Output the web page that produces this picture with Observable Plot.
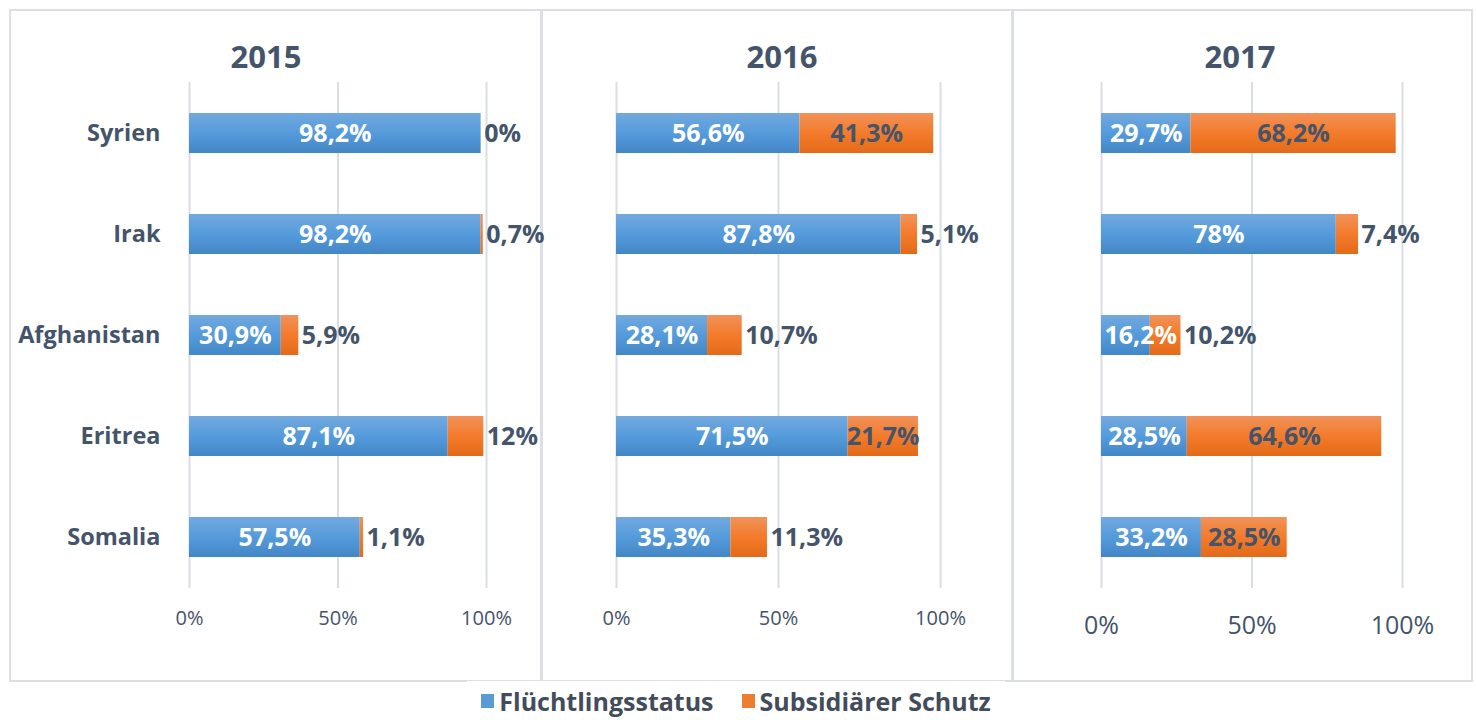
<!DOCTYPE html>
<html><head><meta charset="utf-8">
<script src="https://cdn.jsdelivr.net/npm/d3@7"></script>
<script src="https://cdn.jsdelivr.net/npm/@observablehq/plot@0.6"></script>
<style>
body{margin:0;background:#fff;font-family:"Open Sans",sans-serif;}
#wrap{position:relative;width:1476px;height:720px;overflow:hidden;background:#fff;}
.panel{position:absolute;border:2px solid #DCDFE4;box-sizing:border-box;}
.title{position:absolute;font-weight:700;font-size:31px;line-height:31px;color:#44546A;transform:translateX(-50%);white-space:nowrap;}
.plot{position:absolute;top:0;}
#legend{position:absolute;top:681px;height:39px;background:#fff;display:flex;align-items:center;justify-content:center;font-weight:700;font-size:25px;color:#434C5A;white-space:nowrap;}
#legend .sw{display:inline-block;width:13px;height:14px;margin-right:5px;flex:none;}
#legend .item{display:flex;align-items:center;margin:0 14px;white-space:nowrap;}
</style></head><body><div id="wrap"></div><script>
// ---- data ----
const countries = ["Syrien", "Irak", "Afghanistan", "Eritrea", "Somalia"];
const years = ["2015", "2016", "2017"];
const seriesNames = ["Flüchtlingsstatus", "Subsidiärer Schutz"];
const fluecht2015 = [98.2, 98.2, 30.9, 87.1, 57.5];
const subsid2015  = [0, 0.7, 5.9, 12, 1.1];
const fluecht2016 = [56.6, 87.8, 28.1, 71.5, 35.3];
const subsid2016  = [41.3, 5.1, 10.7, 21.7, 11.3];
const fluecht2017 = [29.7, 78, 16.2, 28.5, 33.2];
const subsid2017  = [68.2, 7.4, 10.2, 64.6, 28.5];
const xTicks = [0, 50, 100];

const fluecht = [fluecht2015, fluecht2016, fluecht2017];
const subsid = [subsid2015, subsid2016, subsid2017];

// ---- layout (styles only) ----
const TEXT = "#44546A";
const panels = [
  {box:[9, 9, 533, 673], svgLeft:0, width:541, mL:189, mR:55, title:266, tickFont:20, tickPad:22, yAxis:true},
  {box:[541, 9, 472, 673], svgLeft:541, width:471, mL:75, mR:72, title:782, tickFont:20, tickPad:22, yAxis:false},
  {box:[1012, 9, 461, 673], svgLeft:1012, width:461, mL:89, mR:71, title:1240, tickFont:25, tickPad:28, yAxis:false}
];
const fmt = v => String(v).replace(".", ",") + "%";
const LABEL_FONT = 25;
const ctx = document.createElement("canvas").getContext("2d");
ctx.font = `700 ${LABEL_FONT}px "Open Sans"`;
const measure = s => ctx.measureText(s).width;

const wrap = document.getElementById("wrap");

panels.forEach((p, i) => {
  const box = document.createElement("div");
  box.className = "panel";
  Object.assign(box.style, {left: p.box[0]+"px", top: p.box[1]+"px", width: p.box[2]+"px", height: p.box[3]+"px"});
  wrap.appendChild(box);
});

panels.forEach((p, i) => {
  const rows = countries.map((c, j) => ({country: c, f: fluecht[i][j], s: subsid[i][j]}));
  const k = (p.width - p.mL - p.mR) / 100;
  const labels = [];
  rows.forEach(r => {
    const bt = fmt(r.f), ot = fmt(r.s);
    const bw = measure(bt), ow = measure(ot);
    if (bw <= r.f * k) labels.push({country: r.country, x: r.f / 2, t: bt, anchor: "middle", fill: "#fff"});
    else labels.push({country: r.country, x: 0, t: bt, anchor: "start", fill: "#fff"});
    if (ow <= r.s * k + 4) labels.push({country: r.country, x: r.f + r.s / 2, t: ot, anchor: "middle", fill: TEXT});
    else labels.push({country: r.country, x: r.f + r.s, t: ot, anchor: "start", fill: TEXT});
  });
  const gb = `gb${i}`, go = `go${i}`;
  const marks = [
    Plot.ruleX(xTicks, {stroke: "#D9DEE5", strokeWidth: 2}),
    Plot.barX(rows, {y: "country", x1: 0, x2: "f", fill: `url(#${gb})`}),
    Plot.barX(rows, {y: "country", x1: "f", x2: d => d.f + d.s, fill: `url(#${go})`}),
    Plot.text(labels.filter(d => d.anchor === "middle"), {y: "country", x: "x", text: "t", fill: "fill", textAnchor: "middle", fontSize: LABEL_FONT, fontWeight: 700, fontFamily: "Open Sans"}),
    Plot.text(labels.filter(d => d.anchor === "start"), {y: "country", x: "x", text: "t", fill: "fill", textAnchor: "start", dx: 3, fontSize: LABEL_FONT, fontWeight: 700, fontFamily: "Open Sans"}),
    Plot.axisX({ticks: xTicks, tickFormat: d => d + "%", tickSize: 0, tickPadding: p.tickPad, fontSize: p.tickFont, fill: TEXT, fontFamily: "Open Sans", label: null})
  ];
  if (p.yAxis) marks.push(Plot.axisY({tickSize: 0, tickPadding: 29, fontSize: 23.5, fontWeight: 700, fill: TEXT, fontFamily: "Open Sans", label: null}));
  const svg = Plot.plot({
    width: p.width, height: 681,
    marginLeft: p.mL, marginRight: p.mR, marginTop: 82, marginBottom: 93,
    style: {background: "transparent", overflow: "visible", fontFamily: "Open Sans"},
    x: {domain: [0, 100], label: null},
    y: {domain: countries, paddingInner: 0.6, paddingOuter: 0.3, label: null, axis: p.yAxis ? undefined : null},
    marks
  });
  const ns = "http://www.w3.org/2000/svg";
  const defs = document.createElementNS(ns, "defs");
  defs.innerHTML = `<linearGradient id="${gb}" x1="0" y1="0" x2="0" y2="1"><stop offset="0" stop-color="#73A9DE"/><stop offset="0.5" stop-color="#559BDB"/><stop offset="1" stop-color="#4386C6"/></linearGradient>
  <linearGradient id="${go}" x1="0" y1="0" x2="0" y2="1"><stop offset="0" stop-color="#F1925A"/><stop offset="0.5" stop-color="#F37B2B"/><stop offset="1" stop-color="#E36A18"/></linearGradient>`;
  svg.insertBefore(defs, svg.firstChild);
  svg.classList.add("plot");
  svg.style.position = "absolute";
  svg.style.left = p.svgLeft + "px";
  svg.style.top = "0px";
  wrap.appendChild(svg);

  const t = document.createElement("div");
  t.className = "title";
  t.textContent = years[i];
  t.style.left = p.title + "px";
  t.style.top = "41px";
  wrap.appendChild(t);
});

const legend = document.createElement("div");
legend.id = "legend";
legend.style.left = "467px";
legend.style.width = "538px";
const colors = ["#5B9BD5", "#ED7D31"];
seriesNames.forEach((n, i) => {
  const it = document.createElement("span");
  it.className = "item";
  it.innerHTML = `<span class="sw" style="background:${colors[i]}"></span><span>${n}</span>`;
  legend.appendChild(it);
});
wrap.appendChild(legend);
</script></body></html>
